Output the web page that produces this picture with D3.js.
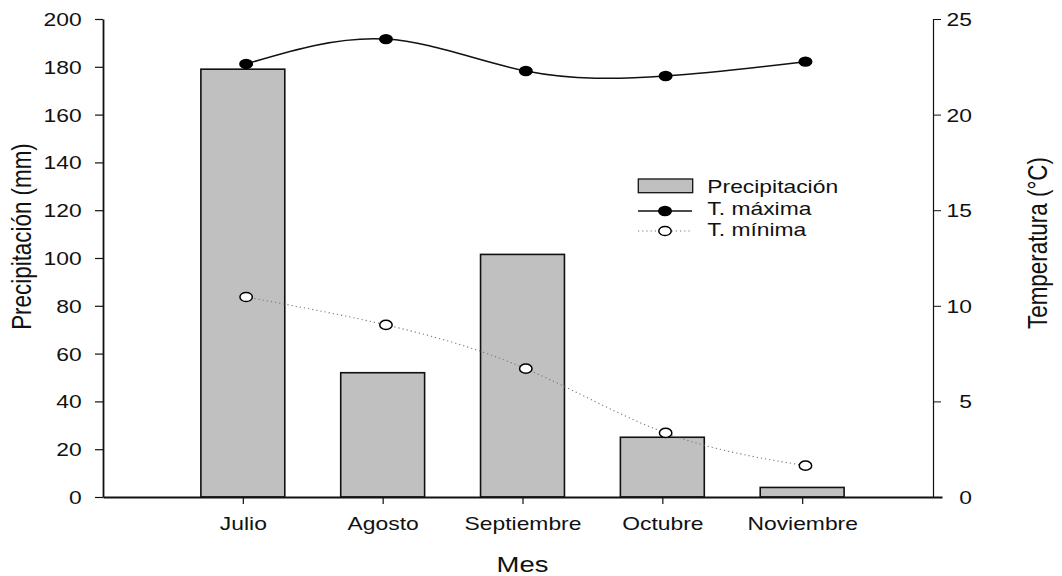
<!DOCTYPE html>
<html><head><meta charset="utf-8">
<script src="https://cdn.jsdelivr.net/npm/d3@7"></script>
<style>
body{margin:0;background:#fff}
svg text{font-family:"Liberation Sans",Arial,sans-serif;fill:#111}
</style>
</head><body><svg id="c" width="1062" height="576"></svg>
<script>
const months = ["Julio", "Agosto", "Septiembre", "Octubre", "Noviembre"];
const precipitation = [179, 52, 101.5, 25, 4];
const tMax = [22.65, 23.95, 22.28, 22.02, 22.77];
const tMin = [10.46, 9.0, 6.71, 3.35, 1.64];
const leftTicks = [0, 20, 40, 60, 80, 100, 120, 140, 160, 180, 200];
const rightTicks = [0, 5, 10, 15, 20, 25];
const legendLabels = ["Precipitación", "T. máxima", "T. mínima"];

const SX = 1.27; // horizontal stretch of the original rendering
const svg = d3.select("#c");

const x = d3.scaleLinear().domain([-1, 5]).range([103, 942]);
const xl = d3.scaleLinear().domain([-1, 5]).range([106.3, 945.3]);
const yL = d3.scaleLinear().domain([0, 200]).range([497, 19]);
const yR = d3.scaleLinear().domain([0, 25]).range([497, 19]);
const barW = x(0.6) - x(0);

// bars
svg.append("g").selectAll("rect").data(precipitation).join("rect")
  .attr("x", (d, i) => x(i) - barW / 2)
  .attr("y", d => yL(d))
  .attr("width", barW)
  .attr("height", d => yL(0) - yL(d))
  .attr("fill", "#c0c0c0").attr("stroke", "#111").attr("stroke-width", 1.6);

// axes
const gL = svg.append("g").attr("transform", "translate(103,0)")
  .call(d3.axisLeft(yL).tickValues(leftTicks).tickSize(8).tickSizeOuter(0));
gL.select(".domain").attr("stroke-width", 1.8).attr("stroke", "#111");
gL.selectAll(".tick line").attr("stroke-width", 1.2).attr("stroke", "#111");
gL.selectAll(".tick text").attr("font-size", 18).attr("x", -21.3 / SX).attr("dy", "0.36em")
  .attr("transform", `scale(${SX},1)`).attr("text-anchor", "end").attr("fill", "#111");

const gB = svg.append("g").attr("transform", "translate(0,497)")
  .call(d3.axisBottom(x).tickValues(d3.range(months.length)).tickFormat(i => months[i]).tickSize(7).tickSizeOuter(0));
gB.select(".domain").attr("stroke-width", 1.8).attr("stroke", "#111");
gB.selectAll(".tick line").attr("stroke-width", 1.2).attr("stroke", "#111");
gB.selectAll(".tick text").attr("font-size", 18).attr("y", 33).attr("dy", 0)
  .attr("transform", `scale(${SX},1)`).attr("fill", "#111");

const gR = svg.append("g").attr("transform", "translate(933,0)")
  .call(d3.axisRight(yR).tickValues(rightTicks).tickSize(8).tickSizeOuter(0));
gR.select(".domain").attr("stroke-width", 1.2).attr("stroke", "#111");
gR.selectAll(".tick line").attr("stroke-width", 1).attr("stroke", "#111");
gR.selectAll(".tick text").attr("font-size", 18).attr("x", 39 / SX).attr("dy", "0.36em")
  .attr("transform", `scale(${SX},1)`).attr("text-anchor", "end").attr("fill", "#111");

// titles
svg.append("text").attr("transform", `translate(31,236.5) scale(${SX},1) rotate(-90)`)
  .attr("text-anchor", "middle").attr("font-size", 22.4).text("Precipitación (mm)");
svg.append("text").attr("transform", `translate(1047,243) scale(${SX},1) rotate(-90)`)
  .attr("text-anchor", "middle").attr("font-size", 22.4).text("Temperatura (°C)");
svg.append("text").attr("transform", `translate(522.5,572) scale(${SX},1)`)
  .attr("text-anchor", "middle").attr("font-size", 21.6).text("Mes");

// lines
const line = d3.line().x((d, i) => xl(i)).y(d => yR(d)).curve(d3.curveNatural);
svg.append("path").attr("d", line(tMin)).attr("fill", "none")
  .attr("stroke", "#777").attr("stroke-width", 1.1).attr("stroke-dasharray", "1.2,3");
svg.append("path").attr("d", line(tMax)).attr("fill", "none")
  .attr("stroke", "#111").attr("stroke-width", 1.5);

svg.append("g").selectAll("ellipse").data(tMax).join("ellipse")
  .attr("cx", (d, i) => xl(i)).attr("cy", d => yR(d))
  .attr("rx", 7).attr("ry", 5.2).attr("fill", "#000");
svg.append("g").selectAll("ellipse").data(tMin).join("ellipse")
  .attr("cx", (d, i) => xl(i)).attr("cy", d => yR(d))
  .attr("rx", 6.2).attr("ry", 4.6).attr("fill", "#fff").attr("stroke", "#000").attr("stroke-width", 1.5);

// legend
const lg = svg.append("g");
lg.append("rect").attr("x", 638.3).attr("y", 179).attr("width", 54.4).attr("height", 13.7)
  .attr("fill", "#c0c0c0").attr("stroke", "#111").attr("stroke-width", 1.3);
lg.append("line").attr("x1", 638).attr("x2", 692).attr("y1", 211).attr("y2", 211)
  .attr("stroke", "#111").attr("stroke-width", 1.5);
lg.append("ellipse").attr("cx", 665).attr("cy", 211).attr("rx", 7).attr("ry", 5.2).attr("fill", "#000");
lg.append("line").attr("x1", 638).attr("x2", 692).attr("y1", 231).attr("y2", 231)
  .attr("stroke", "#777").attr("stroke-width", 1.1).attr("stroke-dasharray", "1.2,3");
lg.append("ellipse").attr("cx", 665).attr("cy", 231).attr("rx", 6.2).attr("ry", 4.6)
  .attr("fill", "#fff").attr("stroke", "#000").attr("stroke-width", 1.5);
lg.selectAll("text.lbl").data(legendLabels).join("text").attr("class", "lbl")
  .attr("transform", (d, i) => `translate(707.3,${[193, 215, 236][i]}) scale(${SX},1)`)
  .attr("font-size", 18).text(d => d);
</script>
</body></html>
